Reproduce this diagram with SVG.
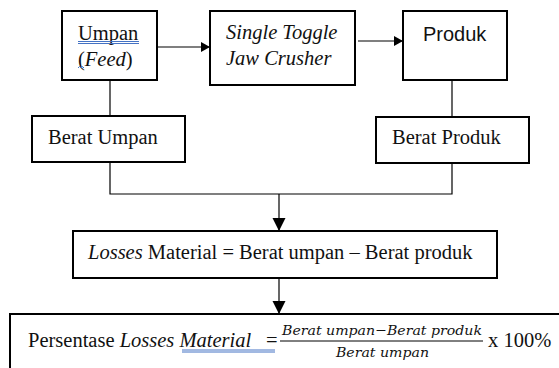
<svg xmlns="http://www.w3.org/2000/svg" width="559" height="368" viewBox="0 0 559 368">
<style>
.box{fill:#fff;stroke:#000;stroke-width:2}
.ln{fill:none;stroke:#000;stroke-width:1.2}
.t{font-family:"Liberation Serif","Times New Roman",serif;font-size:20.5px;fill:#111}
.s{font-family:"Liberation Sans",Arial,sans-serif;font-size:20px;fill:#111}
.m{font-family:"DejaVu Serif",serif;font-style:italic;font-size:13.5px;fill:#111}
.ul{stroke:#4472c4;stroke-width:1;fill:none}
</style>
<defs>
<marker id="ah" markerWidth="10" markerHeight="10" refX="9" refY="5" orient="auto" markerUnits="userSpaceOnUse">
<path d="M0,0 L9,5 L0,10 Z" fill="#000"/>
</marker>
<marker id="ahd" markerWidth="14" markerHeight="14" refX="13" refY="6.5" orient="auto" markerUnits="userSpaceOnUse">
<path d="M0,0 L13,6.5 L0,13 Z" fill="#000"/>
</marker>
</defs>
<g id="connectors">
<line class="ln" x1="157" y1="47" x2="210" y2="47" marker-end="url(#ah)"/>
<line class="ln" x1="358" y1="41" x2="403" y2="41" marker-end="url(#ah)"/>
<line class="ln" x1="110" y1="80" x2="110" y2="116"/>
<line class="ln" x1="452" y1="80" x2="452" y2="117"/>
<polyline class="ln" points="110,162 110,194 452,194 452,163"/>
<line class="ln" x1="279" y1="194" x2="279" y2="231" marker-end="url(#ahd)"/>
<line class="ln" x1="279" y1="278" x2="279" y2="314" marker-end="url(#ahd)"/>
</g>
<g id="umpan">
<rect class="box" x="62" y="11" width="95" height="69"/>
<text class="t" x="78" y="40">Umpan</text>
<text class="t" x="78" y="66">(<tspan font-style="italic">Feed</tspan>)</text>
<path class="ul" d="M78,41.5 H139 M78,43.5 H139"/>
<path class="ul" d="M78,68 l1.5,-1.5 l1.5,1.5 l1.5,-1.5 l1.5,1.5"/>
</g>
<g id="crusher">
<rect class="box" x="210" y="11" width="145" height="74"/>
<text class="t" x="226" y="39" font-style="italic">Single Toggle</text>
<text class="t" x="226" y="65" font-style="italic">Jaw Crusher</text>
</g>
<g id="produk">
<rect class="box" x="403" y="11" width="104" height="69"/>
<text class="s" x="423" y="41">Produk</text>
</g>
<g id="berat-umpan">
<rect class="box" x="32" y="116" width="153" height="46"/>
<text class="t" x="48" y="144">Berat Umpan</text>
</g>
<g id="berat-produk">
<rect class="box" x="376" y="117" width="153" height="46"/>
<text class="t" x="392" y="144">Berat Produk</text>
</g>
<g id="losses">
<rect class="box" x="73" y="231" width="424" height="47"/>
<text class="t" x="88" y="259"><tspan font-style="italic">Losses</tspan> Material = Berat umpan – Berat produk</text>
</g>
<g id="persentase">
<rect class="box" x="10" y="314" width="560" height="60"/>
<text class="t" x="28" y="347">Persentase <tspan font-style="italic">Losses Material</tspan></text>
<text class="t" x="266" y="347">=</text>
<path class="ul" d="M182,350 H275 M182,352 H275"/>
<text class="m" x="282" y="335" textLength="200" lengthAdjust="spacingAndGlyphs">Berat umpan−Berat produk</text>
<line x1="280" y1="341" x2="483" y2="341" stroke="#000" stroke-width="1"/>
<text class="m" x="336" y="357" textLength="93" lengthAdjust="spacingAndGlyphs">Berat umpan</text>
<text class="t" x="488" y="347">x 100%</text>
</g>
</svg>
